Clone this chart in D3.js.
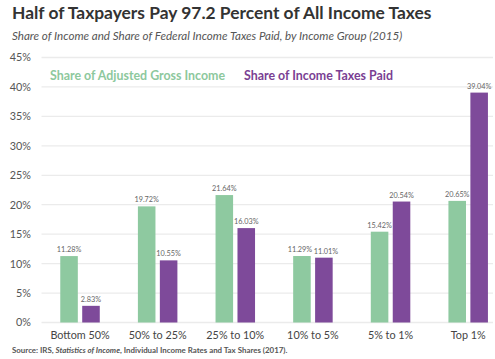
<!DOCTYPE html>
<html><head><meta charset="utf-8">
<script src="https://cdn.jsdelivr.net/npm/d3@7"></script>
<style>body{margin:0;background:#fff;}svg{display:block;font-family:Lato,"Open Sans",sans-serif;}</style>
</head><body>
<svg id="c" width="495" height="359"></svg>
<script>
const categories = ["Bottom 50%","50% to 25%","25% to 10%","10% to 5%","5% to 1%","Top 1%"];
const seriesNames = ["Share of Adjusted Gross Income","Share of Income Taxes Paid"];
const agiShare = [11.28,19.72,21.64,11.29,15.42,20.65];
const taxShare = [2.83,10.55,16.03,11.01,20.54,39.04];
const yTicks = [0,5,10,15,20,25,30,35,40,45];
const colors = ["#8ec9a0","#7e4a9a"];
const legendColors = ["#8dc89d","#7a3f93"];

const svg = d3.select("#c");
const y = d3.scaleLinear().domain([0,45]).range([322.5,57.5]);
const x0 = d3.scaleBand().domain(categories).range([41.2,507]).padding(0);
const x1 = d3.scaleBand().domain(seriesNames).range([0,39.5]).paddingInner(0.2);

svg.append("text").attr("x",12).attr("y",19).attr("font-size",17.4).attr("font-weight",700).attr("fill","#333")
  .text("Half of Taxpayers Pay 97.2 Percent of All Income Taxes");
svg.append("text").attr("x",12).attr("y",40).attr("font-size",11.6).attr("font-style","italic").attr("fill","#555")
  .text("Share of Income and Share of Federal Income Taxes Paid, by Income Group (2015)");

// grid
const yAxis = d3.axisLeft(y).tickValues(yTicks).tickFormat(d=>d+"%").tickSize(0);
const gy = svg.append("g").attr("transform","translate(34,0)").call(yAxis);
gy.select(".domain").remove();
gy.selectAll("text").attr("font-size",10.8).attr("fill","#555").attr("font-family","Lato, sans-serif").attr("dx",0);
svg.append("g").selectAll("line").data(yTicks).join("line")
  .attr("x1",41.5).attr("x2",493).attr("y1",d=>y(d)).attr("y2",d=>y(d))
  .attr("stroke","#ebebeb").attr("stroke-width",1.3);

// legend
svg.append("text").attr("x",50).attr("y",80).attr("font-size",12.4).attr("font-weight",700).attr("fill",legendColors[0]).text(seriesNames[0]);
svg.append("text").attr("x",244).attr("y",80).attr("font-size",12.4).attr("font-weight",700).attr("fill",legendColors[1]).text(seriesNames[1]);

// bars
const data = categories.map((c,i)=>({cat:c, vals:[{s:seriesNames[0],v:agiShare[i],k:0},{s:seriesNames[1],v:taxShare[i],k:1}]}));
const g = svg.append("g").selectAll("g").data(data).join("g")
  .attr("transform",d=>`translate(${x0(d.cat)+x0.bandwidth()/2-19.75},0)`);
g.selectAll("rect").data(d=>d.vals).join("rect")
  .attr("x",d=>x1(d.s)).attr("width",x1.bandwidth())
  .attr("y",d=>y(d.v)).attr("height",d=>y(0)-y(d.v))
  .attr("fill",d=>colors[d.k]);
g.each(function(d){
  const grp = d3.select(this);
  const labels = grp.selectAll("text").data(d.vals).join("text")
    .attr("x",v=>x1(v.s)+x1.bandwidth()/2).attr("y",v=>y(v.v)-4)
    .attr("text-anchor","middle").attr("font-size",7.3).attr("fill","#666")
    .text(v=>v.v.toFixed(2)+"%");
  // nudge apart labels at similar heights that would collide
  if (Math.abs(y(d.vals[0].v)-y(d.vals[1].v)) < 9) {
    const n = labels.nodes();
    const w0 = n[0].getComputedTextLength(), w1 = n[1].getComputedTextLength();
    const gap = (x1(d.vals[1].s)-x1(d.vals[0].s)) - (w0+w1)/2;
    if (gap < 1.5) {
      const shift = (1.5-gap)/2;
      d3.select(n[0]).attr("x",+n[0].getAttribute("x")-shift);
      d3.select(n[1]).attr("x",+n[1].getAttribute("x")+shift);
    }
  }
});

// x axis
const xAxis = d3.axisBottom(x0).tickSize(0);
const gx = svg.append("g").attr("transform","translate(0,328)").call(xAxis);
gx.select(".domain").remove();
gx.selectAll("text").attr("font-size",10.8).attr("fill","#444").attr("font-family","Lato, sans-serif").attr("dy","0.71em");

// source
const src = svg.append("text").attr("x",12).attr("y",353).attr("font-size",7.9).attr("fill","#555").attr("font-weight",700);
src.append("tspan").text("Source: IRS, ");
src.append("tspan").attr("font-style","italic").text("Statistics of Income");
src.append("tspan").text(", Individual Income Rates and Tax Shares (2017).");
</script>
</body></html>
